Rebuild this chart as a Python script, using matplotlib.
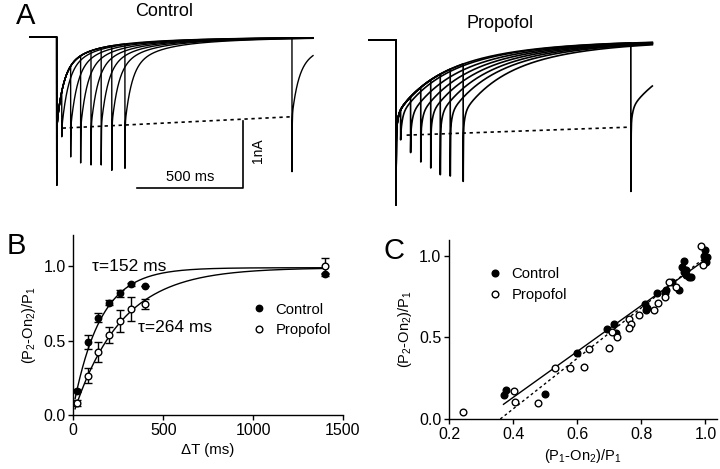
import numpy as np
import matplotlib
matplotlib.use('Agg')
import matplotlib.pyplot as plt

plt.rcParams['font.family'] = ['Liberation Sans', 'DejaVu Sans']
plt.rcParams['mathtext.fontset'] = 'custom'
plt.rcParams['mathtext.rm'] = 'Liberation Sans'
plt.rcParams['mathtext.it'] = 'Liberation Sans:italic'

# ---- panel A: current traces (ms, nA) ----
ctrl_first_peak = 2.21
ctrl_amp_nA = [0.82, 0.33, 0.19]
ctrl_tau_ms = [30, 110, 400]
ctrl_pulse_ms = [24, 66, 113, 162, 210, 260, 322, 1110]
ctrl_peak_nA = [1.49, 1.79, 1.88, 1.91, 1.91, 1.99, 1.96, 2.01]
ctrl_plateau_nA = [1.36, 1.35, 1.35, 1.34, 1.33, 1.32, 1.31, 1.19]
ctrl_dash_ms = [28, 1110]
ctrl_dash_nA = [-1.36, -1.19]

prop_first_peak = 2.46
prop_amp_nA = [0.30, 0.45, 0.67]
prop_tau_ms = [8, 150, 400]
prop_pulse_ms = [22, 69, 117, 164, 209, 256, 317, 1108]
prop_peak_nA = [1.49, 1.68, 1.82, 1.91, 2.01, 2.03, 2.11, 2.26]
prop_plateau_nA = [1.42, 1.42, 1.41, 1.40, 1.40, 1.39, 1.38, 1.30]
prop_dash_ms = [50, 1108]
prop_dash_nA = [-1.42, -1.30]

# ---- panel B ----
dt_ms = [20, 80, 140, 200, 260, 320, 400, 1400]
ctrl_b = [0.163, 0.49, 0.655, 0.756, 0.817, 0.879, 0.865, 0.946]
ctrl_b_err = [0.01, 0.045, 0.03, 0.015, 0.022, 0.01, 0.0, 0.01]
prop_b = [0.078, 0.265, 0.425, 0.537, 0.633, 0.711, 0.745, 1.0]
prop_b_err = [0.02, 0.05, 0.067, 0.054, 0.073, 0.08, 0.033, 0.055]
tau_ctrl, tau_prop = 152, 264
fit_top = [0.99, 0.99]
fit_span = [0.94, 0.985]

# ---- panel C ----
ctrl_c_x = [0.370, 0.377, 0.500, 0.599, 0.693, 0.714, 0.720, 0.812, 0.818, 0.816,
            0.849, 0.873, 0.877, 0.896, 0.917, 0.927, 0.932, 0.932, 0.938, 0.948,
            0.940, 0.955, 0.995, 1.000, 0.997, 1.003, 1.005]
ctrl_c_y = [0.147, 0.177, 0.150, 0.405, 0.552, 0.584, 0.527, 0.703, 0.676, 0.665,
            0.768, 0.770, 0.788, 0.839, 0.788, 0.930, 0.967, 0.900, 0.880, 0.869,
            0.910, 0.870, 1.000, 1.032, 0.971, 0.961, 0.990]
prop_c_x = [0.243, 0.403, 0.406, 0.479, 0.531, 0.578, 0.620, 0.638, 0.698, 0.708,
            0.724, 0.760, 0.768, 0.760, 0.794, 0.839, 0.852, 0.875, 0.885, 0.909,
            0.987, 0.993]
prop_c_y = [0.043, 0.173, 0.102, 0.096, 0.310, 0.310, 0.316, 0.426, 0.432, 0.533,
            0.503, 0.611, 0.580, 0.554, 0.635, 0.666, 0.707, 0.747, 0.839, 0.808,
            1.057, 0.940]
ctrl_line = dict(x=[0.37, 1.0], slope=1.405, icpt=-0.43)
prop_line = dict(x=[0.36, 1.0], slope=1.547, icpt=-0.557)

W, H = 720, 469
fig = plt.figure(figsize=(7.2, 4.69), dpi=100)


def box(l, t, r, b):
    return [l / W, 1 - b / H, (r - l) / W, (b - t) / H]


def draw_traces(ax, first_peak, amps, taus, pulses, peaks, plateaus, lw):
    t = np.arange(-127, 1209.01, 0.25)
    amps = np.array(amps)[:, None]
    taus = np.array(taus)[:, None]
    r0 = amps.sum()

    def recovery(d):
        d = np.clip(d, 0, None)
        return (amps * np.exp(-d[None, :] / taus)).sum(0)

    def spike(d, extra):
        return extra * np.exp(-np.clip(d, 0, None) / 0.8)

    first = np.where(t < 0, 0.0, -(recovery(t) + spike(t, first_peak - r0)))
    for tp, pk, pl in zip(pulses, peaks, plateaus):
        d = t - tp
        second = -(pl / r0 * recovery(d) + spike(d, pk - pl))
        ax.plot(t, np.where(d < 0, first, second), color='k', lw=lw)


px_ms = 0.212
px_nA = 67

axA1 = fig.add_axes(box(20, 5, 330, 200))
draw_traces(axA1, ctrl_first_peak, ctrl_amp_nA, ctrl_tau_ms, ctrl_pulse_ms,
            ctrl_peak_nA, ctrl_plateau_nA, 1.0)
axA1.plot(ctrl_dash_ms, ctrl_dash_nA, color='k', lw=1.2, ls=(0, (2, 2.2)))
axA1.set_xlim((20 - 56.7) / px_ms, (330 - 56.7) / px_ms)
axA1.set_ylim(-(200 - 37) / px_nA, (37 - 5) / px_nA)
axA1.axis('off')
# scale bar
sb_x, sb_y = 379, -2.254
axA1.plot([sb_x, sb_x + 500, sb_x + 500], [sb_y, sb_y, sb_y + 1], color='k', lw=1.2)
axA1.text(sb_x + 250, sb_y + 0.17, '500 ms', ha='center', va='center', fontsize=10.5)
axA1.text(sb_x + 570, sb_y + 0.55, '1nA', ha='center', va='center', fontsize=10,
          rotation=90)

axA2 = fig.add_axes(box(360, 5, 670, 210))
draw_traces(axA2, prop_first_peak, prop_amp_nA, prop_tau_ms, prop_pulse_ms,
            prop_peak_nA, prop_plateau_nA, 1.2)
axA2.plot(prop_dash_ms, prop_dash_nA, color='k', lw=1.2, ls=(0, (2, 2.2)))
axA2.set_xlim((360 - 396) / px_ms, (670 - 396) / px_ms)
axA2.set_ylim(-(210 - 40) / px_nA, (40 - 5) / px_nA)
axA2.axis('off')

fig.text(164 / W, 1 - 12 / H, 'Control', ha='center', va='center', fontsize=13)
fig.text(500 / W, 1 - 24 / H, 'Propofol', ha='center', va='center', fontsize=13)
fig.text(25.5 / W, 1 - 16.5 / H, 'A', ha='center', va='center', fontsize=21)


def style(ax):
    for s in ['top', 'right']:
        ax.spines[s].set_visible(False)
    for s in ['left', 'bottom']:
        ax.spines[s].set_linewidth(1.0)
    ax.tick_params(direction='out', length=3.5, width=1, labelsize=11.5, pad=2)


# ---- panel B ----
axB = fig.add_axes(box(73.3, 235, 343, 415))
style(axB)
tt = np.linspace(10, 1400, 400)
axB.plot(tt, fit_top[0] - fit_span[0] * np.exp(-tt / tau_ctrl), color='k', lw=1)
axB.plot(tt, fit_top[1] - fit_span[1] * np.exp(-tt / tau_prop), color='k', lw=1)
axB.errorbar(dt_ms, ctrl_b, yerr=ctrl_b_err, fmt='none', ecolor='k',
             elinewidth=1, capsize=3, capthick=1)
axB.errorbar(dt_ms, prop_b, yerr=prop_b_err, fmt='none', ecolor='k',
             elinewidth=1, capsize=3, capthick=1)
axB.plot(dt_ms, ctrl_b, 'o', color='k', ms=4.6, label='Control', clip_on=False)
axB.plot(dt_ms, prop_b, 'o', mfc='white', mec='k', mew=1, ms=4.8,
         label='Propofol', clip_on=False)
axB.set_xlim(0, 1500)
axB.set_ylim(0, 1.21)
axB.set_xticks([0, 500, 1000, 1500])
axB.set_yticks([0, 0.5, 1.0])
axB.set_yticklabels(['0.0', '0.5', '1.0'])
axB.set_xlabel('ΔT (ms)', fontsize=10.8, labelpad=4)
axB.set_ylabel('(P$_2$-On$_2$)/P$_1$', fontsize=10.5, labelpad=4)
axB.text(104, 1.0, 'τ=152 ms', ha='left', va='center', fontsize=12.5)
axB.text(360, 0.59, 'τ=264 ms', ha='left', va='center', fontsize=12.5)
axB.legend(loc='upper left', bbox_to_anchor=(0.662, 0.625), frameon=False,
           fontsize=10.7, handlelength=1.0, handletextpad=0.6, borderpad=0,
           labelspacing=0.45, borderaxespad=0)
fig.text(16 / W, 1 - 246 / H, 'B', ha='center', va='center', fontsize=21)

# ---- panel C ----
axC = fig.add_axes(box(449, 240, 716.7, 419))
style(axC)
for ln, ls in [(ctrl_line, '-'), (prop_line, (0, (2, 2)))]:
    xx = np.array(ln['x'])
    axC.plot(xx, ln['slope'] * xx + ln['icpt'], color='k', lw=1, ls=ls)
axC.plot(ctrl_c_x, ctrl_c_y, 'o', color='k', ms=4.8, label='Control', clip_on=False)
axC.plot(prop_c_x, prop_c_y, 'o', mfc='white', mec='k', mew=1, ms=4.8,
         label='Propofol', clip_on=False)
axC.set_xlim(0.2, 1.035)
axC.set_ylim(0, 1.095)
axC.set_xticks([0.2, 0.4, 0.6, 0.8, 1.0])
axC.set_xticklabels(['0.2', '0.4', '0.6', '0.8', '1.0'])
axC.set_yticks([0, 0.5, 1.0])
axC.set_yticklabels(['0.0', '0.5', '1.0'])
axC.set_xlabel('(P$_1$-On$_2$)/P$_1$', fontsize=10.5, labelpad=4)
axC.set_ylabel('(P$_2$-On$_2$)/P$_1$', fontsize=10.5, labelpad=4)
axC.legend(loc='upper left', bbox_to_anchor=(0.144, 0.85), frameon=False,
           fontsize=10.7, handlelength=1.0, handletextpad=0.6, borderpad=0,
           labelspacing=0.5, borderaxespad=0)
fig.text(394 / W, 1 - 251 / H, 'C', ha='center', va='center', fontsize=21)

fig.savefig('out.png', dpi=100)
